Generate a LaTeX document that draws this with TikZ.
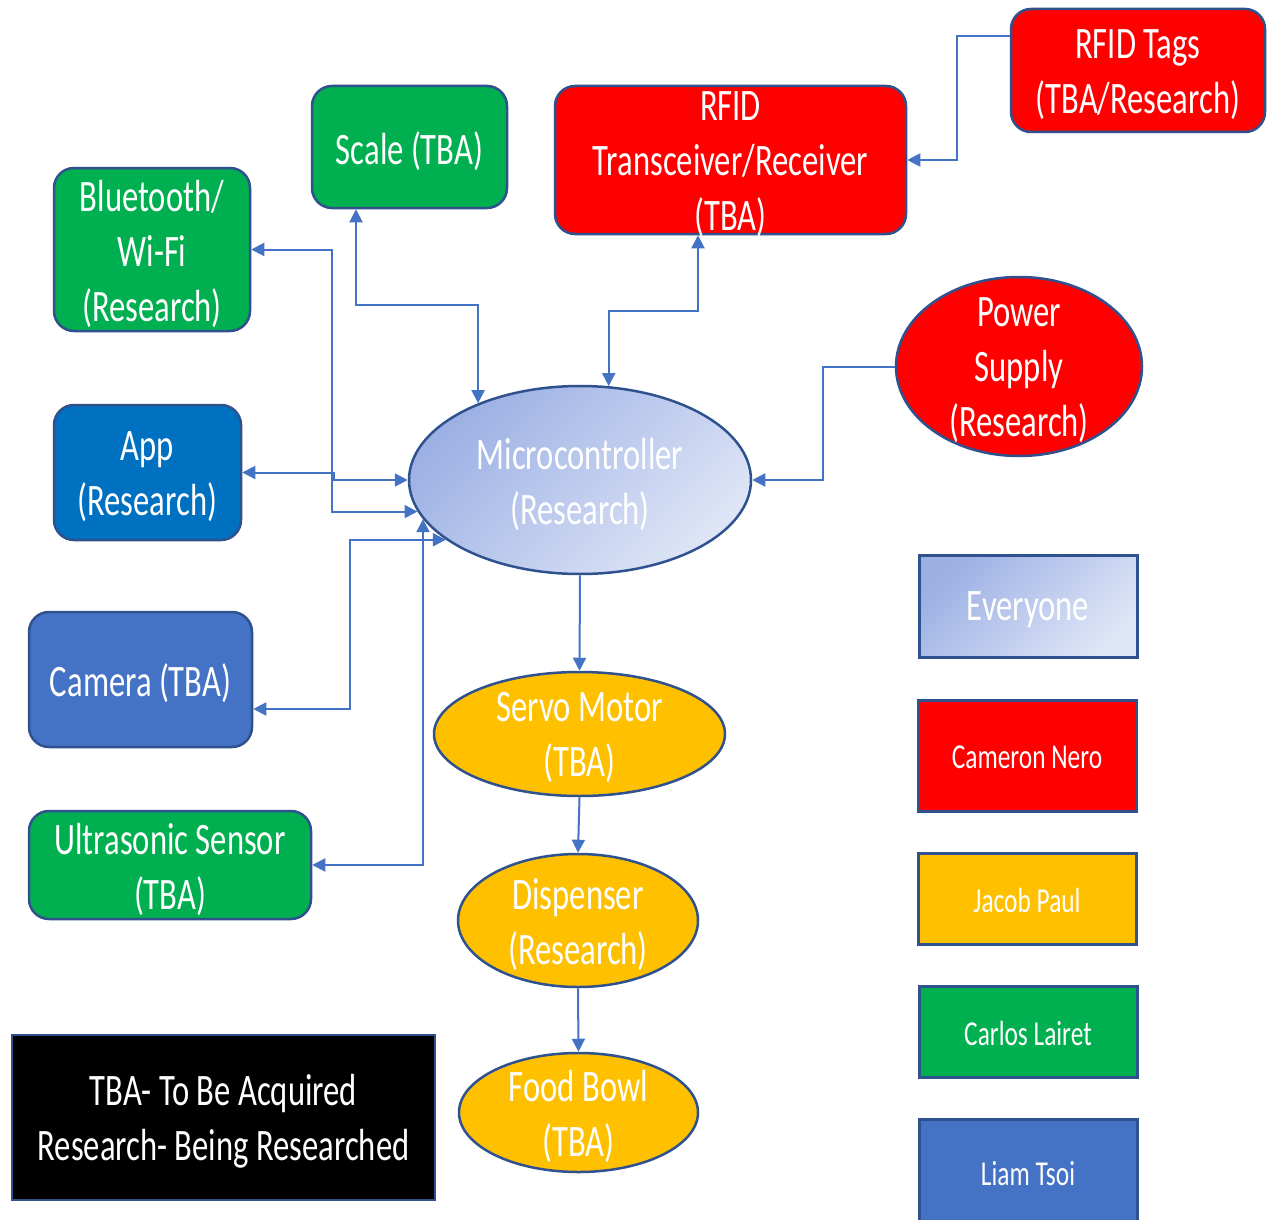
\documentclass[tikz,border=0pt]{standalone}
\usepackage{fontspec}
\setmainfont{Carlito}[FakeStretch=0.725]
\usetikzlibrary{arrows.meta,shapes.geometric}
\definecolor{gGreen}{HTML}{00B050}
\definecolor{gRed}{HTML}{FF0000}
\definecolor{gBlueA}{HTML}{0070C0}
\definecolor{gBlueB}{HTML}{4472C4}
\definecolor{gYellow}{HTML}{FFC000}
\definecolor{gEdge}{HTML}{2F528F}
\definecolor{gLine}{HTML}{4472C4}
\definecolor{gradA}{RGB}{156,176,228}
\definecolor{gradB}{RGB}{222,229,246}
\begin{document}
\begin{tikzpicture}[x=1pt,y=-1pt,
  box/.style={draw=gEdge, line width=2.5pt, rounded corners=20pt, inner sep=0pt},
  ell/.style={ellipse, draw=gEdge, line width=2.5pt, inner sep=0pt},
  legend/.style={draw=gEdge, line width=3pt, inner sep=0pt, minimum width=218pt},
  lbl/.style={text=white, align=center, inner sep=0pt, yshift=-4pt, font=\fontsize{45}{55}\selectfont},
  small/.style={text=white, inner sep=0pt, yshift=-2pt, font=\fontsize{35}{42}\selectfont},
  conn/.style={draw=gLine, line width=2pt},
  one/.style={conn, -{Triangle[length=13pt,width=13pt]}},
  two/.style={conn, {Triangle[length=13pt,width=13pt]}-{Triangle[length=13pt,width=13pt]}},
]
\clip (0,0) rectangle (1269,1220);
\fill[white] (0,0) rectangle (1269,1220);

% top row
\node[box, fill=gGreen, minimum width=195pt, minimum height=122pt] (scale) at (409.5,147) {};
\node[lbl] (scale-t) at (scale.center) {Scale (TBA)};
\node[box, fill=gRed, minimum width=351pt, minimum height=148pt] (tr) at (730.5,160) {};
\node[lbl] (tr-t) at (tr.center) {RFID\\Transceiver/Receiver\\(TBA)};
\node[box, fill=gRed, minimum width=254pt, minimum height=123pt] (tags) at (1138,70.5) {};
\node[lbl] (tags-t) at (tags.center) {RFID Tags\\(TBA/Research)};

% left column
\node[box, fill=gGreen, minimum width=196pt, minimum height=163pt] (bt) at (152,249.5) {};
\node[lbl] (bt-t) at (bt.center) {Bluetooth/\\Wi-Fi\\(Research)};
\node[box, fill=gBlueA, minimum width=187pt, minimum height=135pt] (app) at (147.5,472.5) {};
\node[lbl] (app-t) at (app.center) {App\\(Research)};
\node[box, fill=gBlueB, minimum width=223pt, minimum height=135pt] (cam) at (140.5,679.5) {};
\node[lbl] (cam-t) at (cam.center) {Camera (TBA)};
\node[box, fill=gGreen, minimum width=282pt, minimum height=108pt] (us) at (170,865) {};
\node[lbl] (us-t) at (us.center) {Ultrasonic Sensor\\(TBA)};

% centre
\node[ell, top color=gradA, bottom color=gradB, shading angle=45, minimum width=342pt, minimum height=188pt] (micro) at (580,480) {};
\node[lbl] (micro-t) at (micro.center) {Microcontroller\\(Research)};
\node[ell, fill=gRed, minimum width=246pt, minimum height=179pt] (power) at (1019,366.5) {};
\node[lbl] (power-t) at (power.center) {Power\\Supply\\(Research)};
\node[ell, fill=gYellow, minimum width=291pt, minimum height=124pt] (servo) at (579.5,734) {};
\node[lbl] (servo-t) at (servo.center) {Servo Motor\\(TBA)};
\node[ell, fill=gYellow, minimum width=240pt, minimum height=133pt] (disp) at (578,920.5) {};
\node[lbl] (disp-t) at (disp.center) {Dispenser\\(Research)};
\node[ell, fill=gYellow, minimum width=239pt, minimum height=119pt] (bowl) at (578.5,1112.5) {};
\node[lbl] (bowl-t) at (bowl.center) {Food Bowl\\(TBA)};

% legend
\node[legend, top color=gradA, bottom color=gradB, shading angle=45, minimum height=102pt] (ev) at (1028,606) {};
\node[lbl] (ev-t) at (ev.center) {Everyone};
\node[legend, fill=gRed, minimum height=111pt] (cn) at (1027,755.5) {};
\node[small] (cn-t) at (cn.center) {Cameron Nero};
\node[legend, fill=gYellow, minimum height=91pt] (jp) at (1027,898.5) {};
\node[small] (jp-t) at (jp.center) {Jacob Paul};
\node[legend, fill=gGreen, minimum height=91pt] (cl) at (1028,1031.5) {};
\node[small] (cl-t) at (cl.center) {Carlos Lairet};
\node[legend, fill=gBlueB, minimum height=116pt] (lt) at (1028,1177) {};
\node[small] (lt-t) at ([yshift=5pt]lt.center) {Liam Tsoi};

% key
\node[draw=gEdge, line width=2pt, fill=black, minimum width=423pt, minimum height=165pt, inner sep=0pt] (key) at (223.5,1117.5) {};
\node[lbl] (key-t) at (key.center) {TBA- To Be Acquired\\Research- Being Researched};

% connectors
\draw[two] ([xshift=-53.5pt]scale.south) -- ++(0,96) -| (micro.143);
\draw[two] ([xshift=-32.5pt]tr.south) -- ++(0,76) -| (micro.73);
\draw[one] ([yshift=34.5pt]tags.west) -- ++(-53,0) |- (tr.east);
\draw[one] (power.west) -- ++(-72,0) |- (micro.east);
\draw[two] (bt.east) -- ++(81,0) |- (micro.191);
\draw[two] (app.east) -- ++(92,0) |- (micro.west);
\draw[two] ([yshift=-29.5pt]cam.east) -- ++(97,0) |- (micro.204);
\draw[two] (us.east) -| (micro.194);
\draw[one] (micro.south) -- (servo.north);
\draw[one] (servo.south) -- (disp.north);
\draw[one] (disp.south) -- (bowl.north);
\end{tikzpicture}
\end{document}
